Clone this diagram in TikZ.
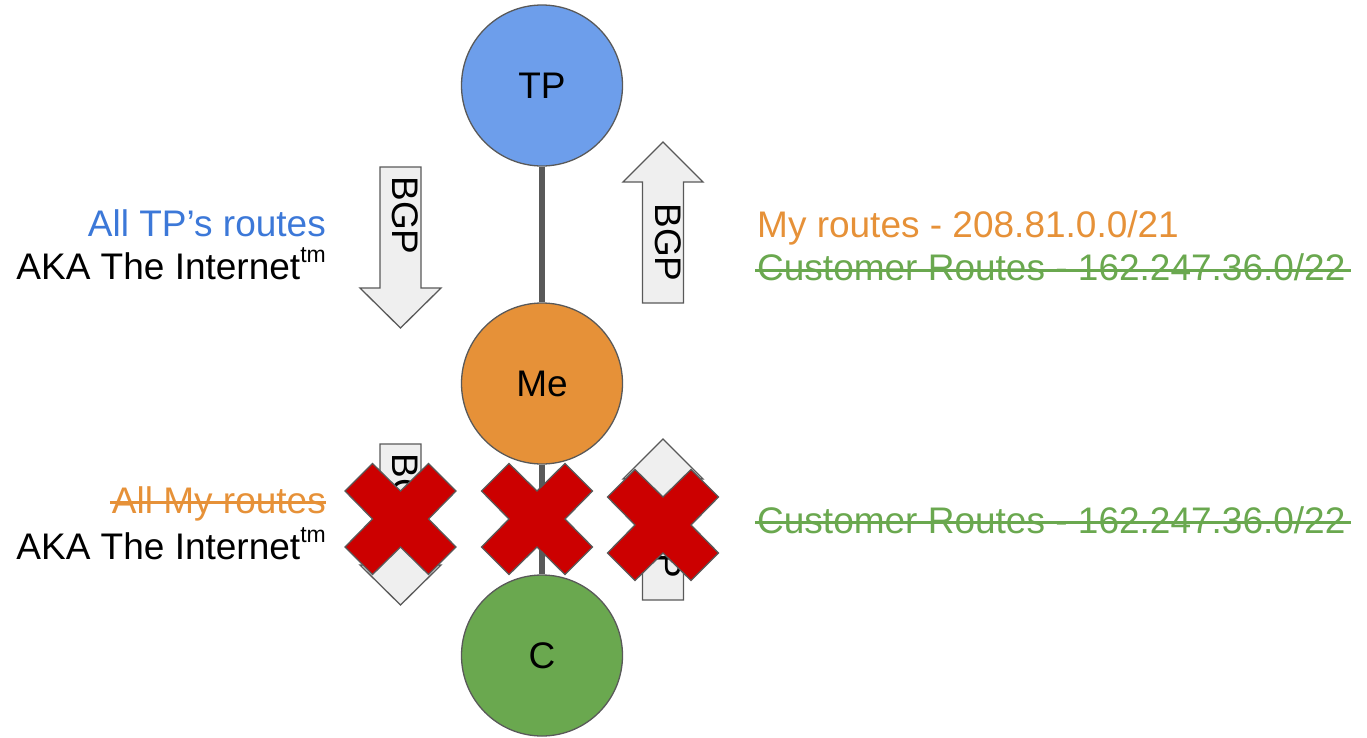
\documentclass[tikz,border=0pt]{standalone}
\usepackage{fontspec}
\setmainfont{Liberation Sans}
\definecolor{tpblue}{HTML}{6D9EEB}
\definecolor{meorange}{HTML}{E69138}
\definecolor{cgreen}{HTML}{6AA84F}
\definecolor{txtblue}{HTML}{3C78D8}
\definecolor{edgegray}{HTML}{595959}
\definecolor{arrowfill}{HTML}{EFEFEF}
\definecolor{xred}{HTML}{CC0000}
\tikzset{
 big/.style={font=\fontsize{37}{44}\selectfont},
 peer/.style={circle, draw=edgegray, line width=1.3pt, minimum size=161pt, inner sep=0pt, big},
 link/.style={draw=edgegray, line width=6pt},
 lbl/.style={inner sep=0pt, big},
 strike/.style={line width=3pt},
 bgparrow/.style={draw=edgegray, fill=arrowfill, line width=1.3pt, line join=miter},
 bgptext/.style={inner sep=0pt, big, rotate=-90},
 redx/.style={draw=edgegray, fill=xred, line width=1.3pt, line join=miter},
 pics/downarrow/.style={code={
   \draw[bgparrow] (-20.5,0) -- (20.5,0) -- (20.5,121) -- (40.5,121) -- (0,161) -- (-40.5,121) -- (-20.5,121) -- cycle;
   \node[bgptext] (-t) at (5,48.5) {BGP};
 }},
 pics/uparrow/.style={code={
   \draw[bgparrow] (0,0) -- (40,40) -- (20.5,40) -- (20.5,161) -- (-20.5,161) -- (-20.5,40) -- (-40,40) -- cycle;
   \node[bgptext] (-t) at (5,100.5) {BGP};
 }},
 pics/cross/.style={code={
   \draw[redx] (-55.5,-28) -- (-28,-55.5) -- (0,-28) -- (28,-55.5) -- (55.5,-28) -- (28,0) -- (55.5,28) -- (28,55.5) -- (0,28) -- (-28,55.5) -- (-55.5,28) -- (-28,0) -- cycle;
 }}
}
\newcommand{\tmsup}{\raisebox{17pt}{\fontsize{23}{23}\selectfont tm}}
\begin{document}
\begin{tikzpicture}[x=1pt, y=-1pt]
\useasboundingbox (0,0) rectangle (1367,737);
% BGP arrows
\pic (a1) at (400.5,167) {downarrow};
\pic (a2) at (663,142) {uparrow};
\pic (a3) at (400.5,444) {downarrow};
\pic (a4) at (663,439) {uparrow};
% peers
\node[peer, fill=tpblue] (TP) at (542,85.5) {TP};
\node[peer, fill=meorange] (Me) at (542,383.5) {Me};
\node[peer, fill=cgreen] (C) at (542,655.5) {C};
\draw[link] (TP) -- (Me);
\draw[link] (Me) -- (C);
% crosses
\pic (x1) at (400.5,519) {cross};
\pic (x2) at (537,519) {cross};
\pic (x3) at (663,525) {cross};
% left texts
\node[lbl, text=txtblue, anchor=base east] (l1) at (326,236) {All TP’s routes};
\node[lbl, anchor=base east] (l2) at (326,279) {AKA The Internet\tmsup};
\node[lbl, text=meorange, anchor=base east] (l3) at (326,513) {All My routes};
\node[lbl, anchor=base east] (l4) at (326,559) {AKA The Internet\tmsup};
\draw[strike, meorange] ([xshift=-2pt, yshift=11pt]l3.base west) -- ([yshift=11pt]l3.base east);
% right texts
\node[lbl, text=meorange, anchor=base west] (r1) at (757,237) {My routes - 208.81.0.0/21};
\node[lbl, text=cgreen, anchor=base west] (r2) at (757,280) {Customer Routes - 162.247.36.0/22};
\node[lbl, text=cgreen, anchor=base west] (r3) at (757,533) {Customer Routes - 162.247.36.0/22};
\draw[strike, cgreen] ([xshift=-2pt, yshift=10pt]r2.base west) -- ([xshift=5pt, yshift=10pt]r2.base east);
\draw[strike, cgreen] ([xshift=-2pt, yshift=11pt]r3.base west) -- ([xshift=5pt, yshift=11pt]r3.base east);
\end{tikzpicture}
\end{document}
